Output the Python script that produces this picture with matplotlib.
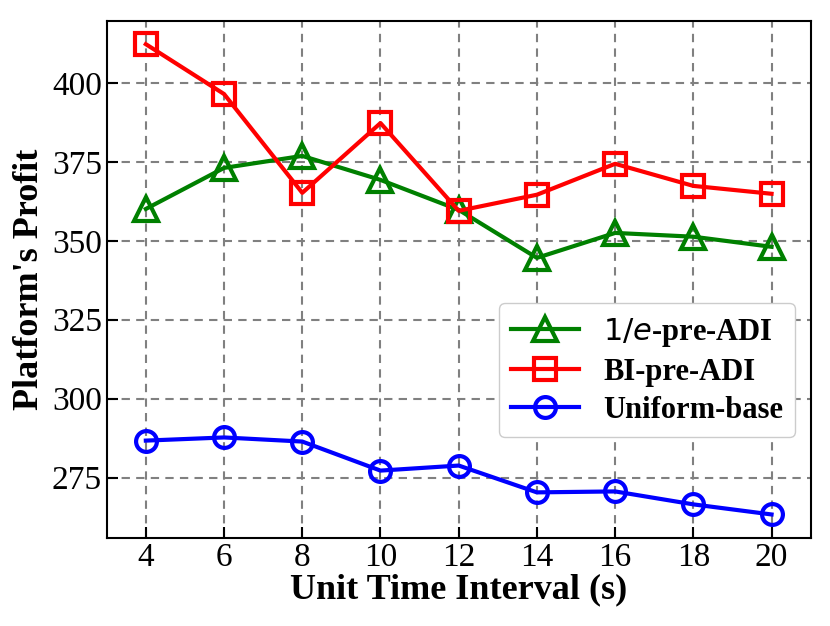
import matplotlib
matplotlib.use('Agg')
import matplotlib.pyplot as plt

# unit time interval (s)
intervals = [4, 6, 8, 10, 12, 14, 16, 18, 20]

# platform's profit per method
e_pre_adi = [360.1, 373.1, 376.9, 369.3, 359.8, 344.6, 352.5, 351.3, 348.1]
bi_pre_adi = [412.3, 396.5, 365.2, 387.3, 359.5, 364.6, 374.4, 367.4, 364.9]
uniform_base = [286.7, 287.7, 286.4, 277.2, 278.8, 270.3, 270.6, 266.5, 263.3]

plt.rcParams['font.family'] = ['Liberation Serif', 'DejaVu Sans']
plt.rcParams['mathtext.fontset'] = 'dejavusans'

fig = plt.figure(figsize=(8.3, 6.26), dpi=100)
ax = fig.add_axes([0.1286, 0.1406, 0.8481, 0.8264])

style = dict(linewidth=3, markeredgewidth=3, markerfacecolor='none')
ax.plot(intervals, e_pre_adi, color='green', marker='^', markersize=17,
        label=r'$1/e$-pre-ADI', **style)
ax.plot(intervals, bi_pre_adi, color='red', marker='s', markersize=16.5,
        label='BI-pre-ADI', **style)
ax.plot(intervals, uniform_base, color='blue', marker='o', markersize=15,
        label='Uniform-base', **style)

ax.set_xlim(3, 21)
ax.set_xticks(intervals)
ax.set_yticks([275, 300, 325, 350, 375, 400])
ax.tick_params(direction='in', length=8, width=1.5, labelsize=24)
for s in ax.spines.values():
    s.set_linewidth(1.5)

ax.grid(True, linestyle='--', color='gray', linewidth=1.5, dashes=(4, 3))
ax.set_axisbelow(True)

ax.set_xlabel('Unit Time Interval (s)', fontsize=26, fontweight='bold', labelpad=0)
ax.set_ylabel("Platform's Profit", fontsize=26, fontweight='bold', labelpad=4)

ax.legend(loc='lower right', bbox_to_anchor=(0.978, 0.195), borderaxespad=0,
          prop={'size': 22, 'weight': 'bold'}, handlelength=2.2, framealpha=1,
          edgecolor='#cccccc', labelspacing=0.3)

fig.savefig('out.png', dpi=100)
